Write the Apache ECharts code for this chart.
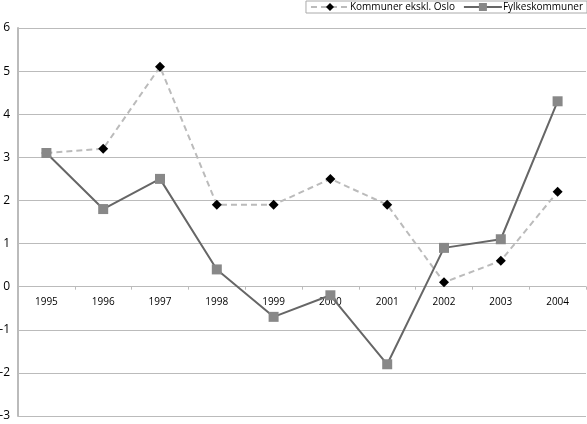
<!DOCTYPE html>
<html>
<head>
<meta charset="utf-8">
<script src="https://cdn.jsdelivr.net/npm/echarts@6/dist/echarts.min.js"></script>
<style>
  html, body { margin: 0; padding: 0; background: #fff; }
  #chart { width: 587px; height: 424px; }
</style>
</head>
<body>
<div id="chart"></div>
<script>
const years = ['1995', '1996', '1997', '1998', '1999', '2000', '2001', '2002', '2003', '2004'];
const kommuner = [3.1, 3.2, 5.1, 1.9, 1.9, 2.5, 1.9, 0.1, 0.6, 2.2];
const fylkeskommuner = [3.1, 1.8, 2.5, 0.4, -0.7, -0.2, -1.8, 0.9, 1.1, 4.3];
const yMin = -3, yMax = 6, yStep = 1;

const gridTop = 28, gridBottom = 8, chartH = 424;
// put the category axis on the zero line
const plotH = chartH - gridTop - gridBottom;
const zeroOffset = -plotH * (0 - yMin) / (yMax - yMin);

const chart = echarts.init(document.getElementById('chart'), null, { renderer: 'canvas' });

chart.setOption({
  animation: false,
  textStyle: { fontFamily: 'Open Sans' },
  grid: { left: 18, right: 1, top: gridTop, bottom: gridBottom, containLabel: false, outerBoundsMode: 'none' },
  legend: {
    right: 0,
    top: 1,
    itemWidth: 38,
    itemHeight: 10,
    itemGap: 8,
    padding: [1, 4, 1, 4],
    borderColor: '#aaa',
    borderWidth: 1,
    textStyle: { fontSize: 10, color: '#000', padding: [0, 0, 0, -4] },
    data: ['Kommuner ekskl. Oslo', 'Fylkeskommuner']
  },
  xAxis: {
    type: 'category',
    data: years,
    boundaryGap: true,
    position: 'bottom',
    offset: zeroOffset,
    axisLine: { onZero: false, lineStyle: { color: '#bbb', width: 1 } },
    axisTick: { show: true, length: 3, lineStyle: { color: '#bbb' } },
    axisLabel: { color: '#000', fontSize: 10, margin: 10 },
    splitLine: { show: false }
  },
  yAxis: {
    type: 'value',
    min: yMin,
    max: yMax,
    interval: yStep,
    axisLine: { show: true, lineStyle: { color: '#bbb', width: 2 } },
    axisTick: { show: false },
    axisLabel: { color: '#000', fontSize: 12, margin: 8 },
    splitLine: { show: true, lineStyle: { color: '#bbb', width: 1 } }
  },
  series: [
    {
      name: 'Kommuner ekskl. Oslo',
      type: 'line',
      data: kommuner,
      symbol: 'diamond',
      symbolSize: 10,
      itemStyle: { color: '#000' },
      lineStyle: { color: '#bbb', width: 2, type: [6, 4] }
    },
    {
      name: 'Fylkeskommuner',
      type: 'line',
      data: fylkeskommuner,
      symbol: 'rect',
      symbolSize: 10,
      itemStyle: { color: '#888' },
      lineStyle: { color: '#666', width: 2 }
    }
  ]
});
</script>
</body>
</html>
